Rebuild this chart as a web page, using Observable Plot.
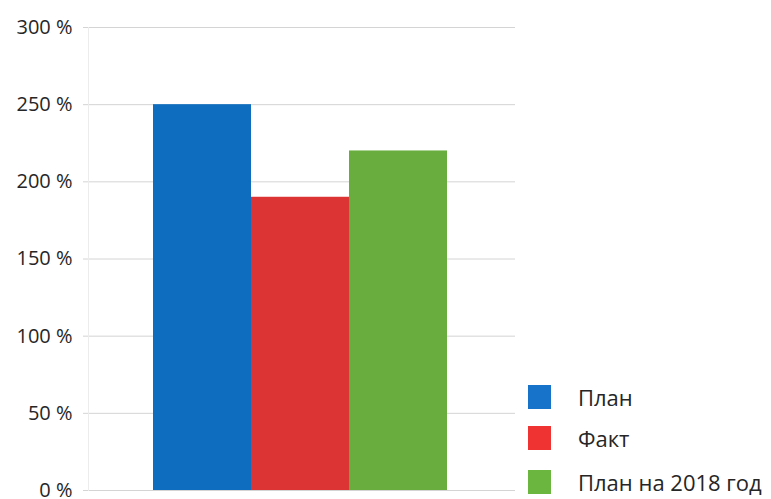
<!DOCTYPE html>
<html><head><meta charset="utf-8">
<script src="https://cdn.jsdelivr.net/npm/d3@7"></script>
<script src="https://cdn.jsdelivr.net/npm/@observablehq/plot@0.6"></script>
<style>
body{margin:0;background:#fff;font-family:"Open Sans",sans-serif;}
#wrap{position:relative;width:771px;height:499px;overflow:hidden;}
#legend{position:absolute;left:528px;top:0;}
.item{position:absolute;left:0;display:flex;align-items:center;height:24px;white-space:nowrap;}
.sw{width:23px;height:24px;margin-right:27px;flex:none;}
.lab{font-size:22px;color:#262626;line-height:24px;}
</style></head>
<body><div id="wrap"><div id="legend"></div></div>
<script>
const categories = ["План", "Факт", "План на 2018 год"];
const values = [250, 190, 220];
const colors = ["#0e6dbe", "#dc3434", "#69ad3e"];
const swatchColors = ["#1673c9", "#ef3232", "#6ab63f"];
const yTicks = [0, 50, 100, 150, 200, 250, 300];

const data = categories.map((c, i) => ({cat: c, v: values[i]}));

const chart = Plot.plot({
  width: 771, height: 499,
  marginLeft: 83, marginRight: 256, marginTop: 27, marginBottom: 9,
  style: {fontFamily: "Open Sans, sans-serif", fontSize: "20px", color: "#262626", background: "#fff", overflow: "visible"},
  x: {domain: categories, range: [152, 448], padding: 0, axis: null},
  y: {domain: [0, 300], ticks: yTicks, tickFormat: d => d + " %", tickSize: 0, tickPadding: 11, label: null},
  color: {domain: categories, range: colors},
  marks: [
    Plot.gridY(yTicks, {stroke: "#d4d4d4", strokeOpacity: 1}),
    Plot.frame({anchor: "left", stroke: "#ececec", dx: 5}),
    Plot.barY(data, {x: "cat", y: "v", fill: "cat"})
  ]
});
document.getElementById("wrap").prepend(chart);

const lg = document.getElementById("legend");
const tops = [385, 426, 470];
categories.forEach((c, i) => {
  const it = document.createElement("div"); it.className = "item"; it.style.top = tops[i] + "px";
  const sw = document.createElement("div"); sw.className = "sw"; sw.style.background = swatchColors[i];
  const lb = document.createElement("div"); lb.className = "lab"; lb.textContent = c;
  it.append(sw, lb); lg.append(it);
});
</script></body></html>
